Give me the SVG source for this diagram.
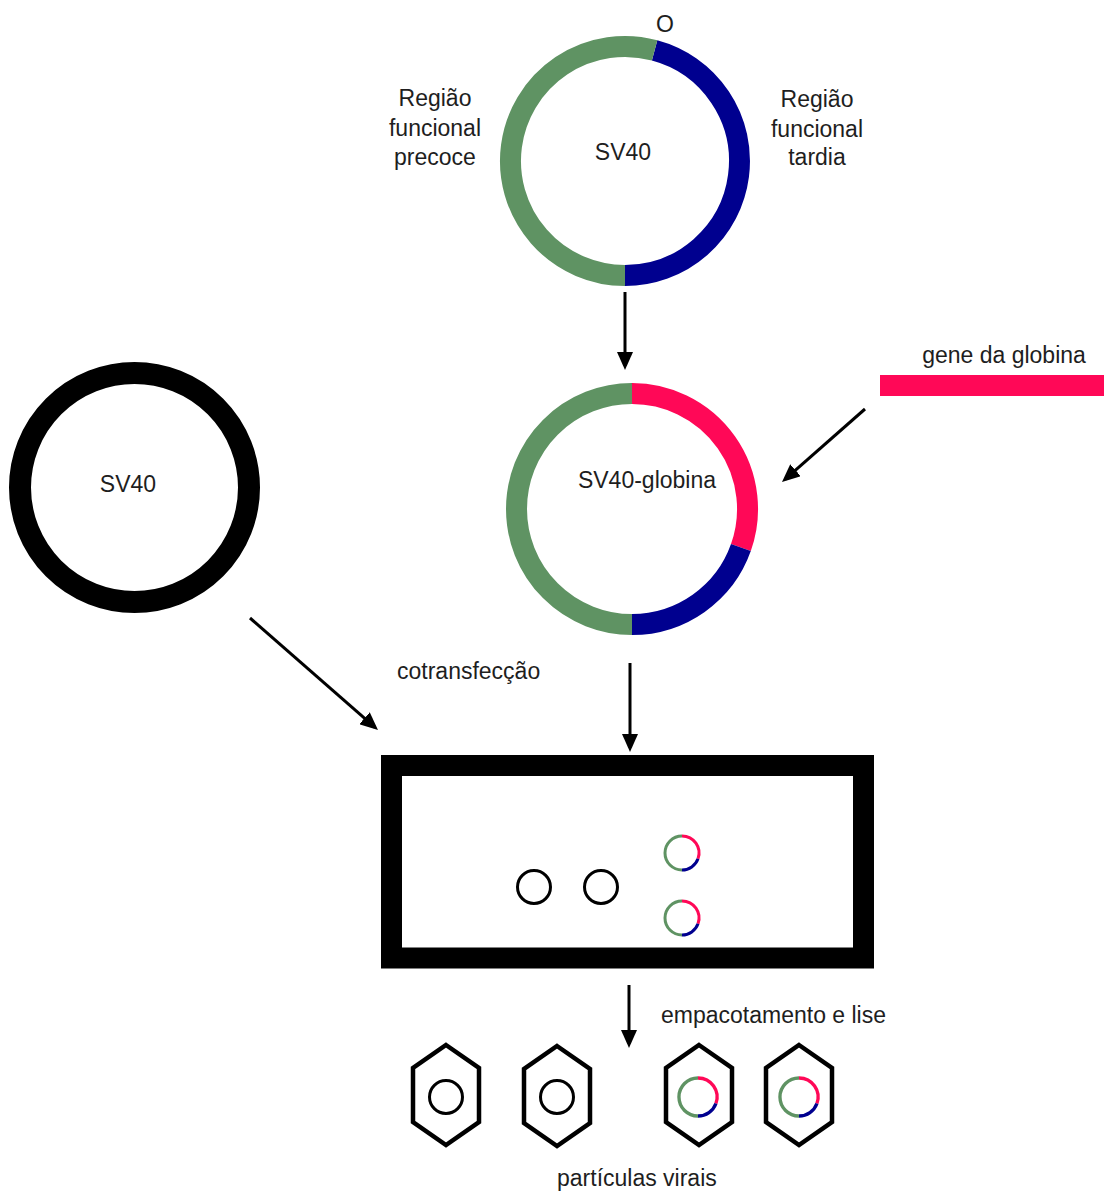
<svg xmlns="http://www.w3.org/2000/svg" xmlns:xlink="http://www.w3.org/1999/xlink" width="1104" height="1195" viewBox="0 0 1104 1195">
<style>
text{font-family:"Liberation Sans",Arial,sans-serif;font-size:23px;fill:#1e1e1e}
.c{text-anchor:middle}
.g{fill:none;stroke:#5f9363}
.b{fill:none;stroke:#00008f}
.p{fill:none;stroke:#ff0857}
.k{fill:none;stroke:#000}
.arr{stroke:#000;stroke-width:3;fill:none;marker-end:url(#ah)}
</style>
<defs>
<marker id="ah" viewBox="0 0 18 16" refX="14" refY="8" markerWidth="18" markerHeight="16" markerUnits="userSpaceOnUse" orient="auto">
<path d="M0,0 L18,8 L0,16 z" fill="#000"/>
</marker>
<g id="mini">
<path class="p" stroke-width="3" d="M0,-17 A17,17 0 0 1 16,5.8"/>
<path class="b" stroke-width="3" d="M16,5.8 A17,17 0 0 1 0,17"/>
<path class="g" stroke-width="3" d="M0,17 A17,17 0 0 1 0,-17"/>
</g>
<circle id="minik" r="16.5" fill="none" stroke="#000" stroke-width="3"/>
<polygon id="hex" points="0,-50 33,-27 33,27 0,50 -33,27 -33,-27" fill="none" stroke="#000" stroke-width="4.5" stroke-linejoin="miter"/>
</defs>
<rect width="1104" height="1195" fill="#fff"/>

<g id="sv40-top">
<path class="b" stroke-width="21" d="M654.6,50.4 A114.5,114.5 0 0 1 625,275.5"/>
<path class="g" stroke-width="21" d="M625,275.5 A114.5,114.5 0 1 1 654.6,50.4"/>
<text class="c" x="623" y="160">SV40</text>
<text class="c" x="665" y="32">O</text>
</g>

<g id="label-precoce">
<text class="c" x="435" y="106">Região</text>
<text class="c" x="435" y="136">funcional</text>
<text class="c" x="435" y="165">precoce</text>
</g>

<g id="label-tardia">
<text class="c" x="817" y="107">Região</text>
<text class="c" x="817" y="137">funcional</text>
<text class="c" x="817" y="165">tardia</text>
</g>

<g id="sv40-globina">
<path class="p" stroke-width="21" d="M632,393.5 A115.5,115.5 0 0 1 740.9,547.6"/>
<path class="b" stroke-width="21" d="M740.9,547.6 A115.5,115.5 0 0 1 632,624.5"/>
<path class="g" stroke-width="21" d="M632,624.5 A115.5,115.5 0 0 1 632,393.5"/>
<text class="c" x="647" y="488">SV40-globina</text>
</g>

<g id="gene-globina">
<rect x="880" y="375" width="224" height="21" fill="#ff0857"/>
<text class="c" x="1004" y="363">gene da globina</text>
</g>

<g id="sv40-left">
<circle cx="134.5" cy="487.5" r="114.5" fill="none" stroke="#000" stroke-width="22"/>
<text class="c" x="128" y="492">SV40</text>
</g>

<g id="cell">
<rect x="391.5" y="765.5" width="472" height="192.5" fill="none" stroke="#000" stroke-width="21"/>
<use xlink:href="#minik" x="534" y="887"/>
<use xlink:href="#minik" x="601" y="887"/>
<use xlink:href="#mini" x="682" y="853"/>
<use xlink:href="#mini" x="682" y="918"/>
</g>

<g id="particles">
<use xlink:href="#hex" x="446" y="1095"/>
<use xlink:href="#minik" x="446" y="1097"/>
<use xlink:href="#hex" x="557" y="1096"/>
<use xlink:href="#minik" x="557" y="1097"/>
<use xlink:href="#hex" x="699" y="1095"/>
<use xlink:href="#mini" transform="translate(698,1097) scale(1.12)"/>
<use xlink:href="#hex" x="799" y="1095"/>
<use xlink:href="#mini" transform="translate(799,1097) scale(1.12)"/>
</g>

<g id="labels">
<text x="397" y="679">cotransfecção</text>
<text x="661" y="1023">empacotamento e lise</text>
<text x="557" y="1186">partículas virais</text>
</g>

<g id="connectors">
<line class="arr" x1="625" y1="292" x2="625" y2="366"/>
<line class="arr" x1="865" y1="409" x2="785" y2="479.4"/>
<line class="arr" x1="250" y1="618" x2="375" y2="727.4"/>
<line class="arr" x1="630" y1="663" x2="630" y2="748"/>
<line class="arr" x1="629" y1="985" x2="629" y2="1044"/>
</g>
</svg>
